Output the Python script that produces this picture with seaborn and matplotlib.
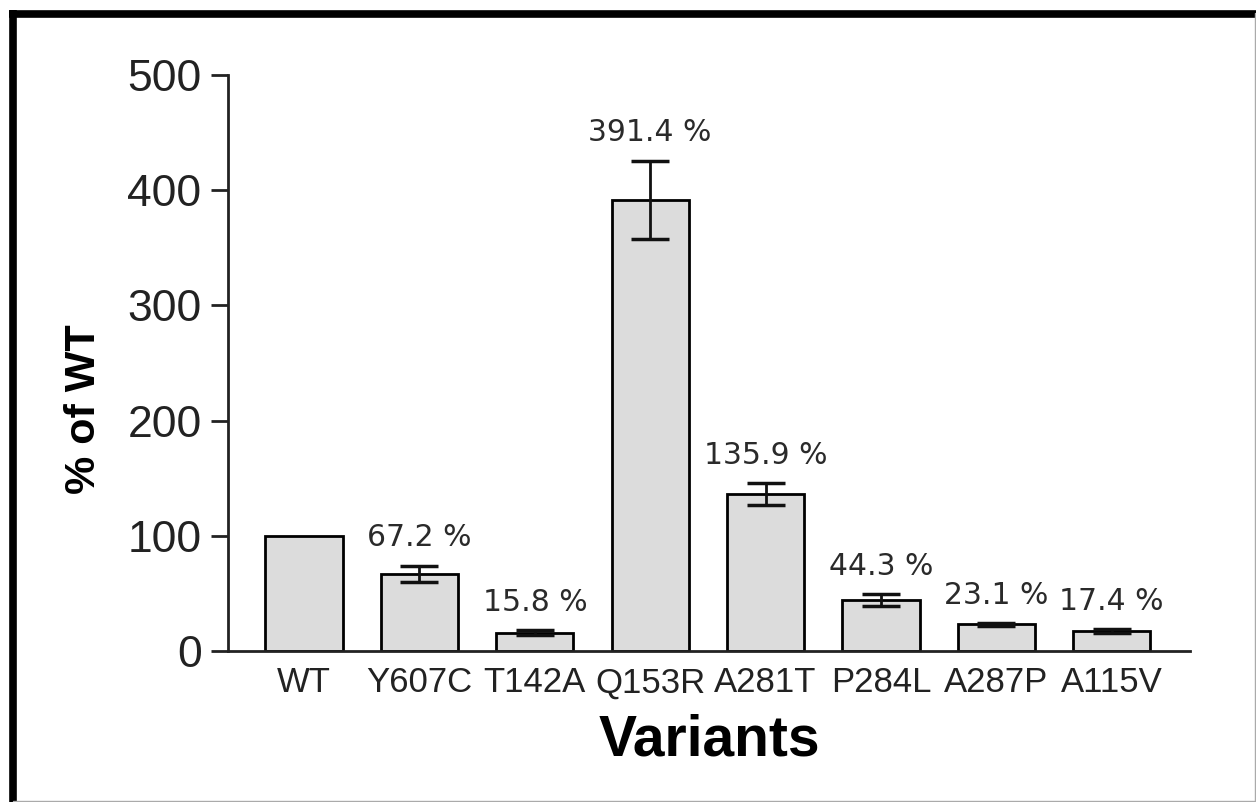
import numpy as np
import pandas as pd
import matplotlib
matplotlib.use('Agg')
import matplotlib.pyplot as plt
import seaborn as sns
from matplotlib.lines import Line2D

# Dados do gráfico
variants = ['WT', 'Y607C', 'T142A', 'Q153R', 'A281T', 'P284L', 'A287P', 'A115V']
values = [100, 67.2, 15.8, 391.4, 135.9, 44.3, 23.1, 17.4]
errors = [0, 7, 2, 34, 9.5, 5, 1, 1.5]
yticks = [0, 100, 200, 300, 400, 500]

df = pd.DataFrame({'Variant': variants, 'Value': values, 'Err': errors})

sns.set_style('white')
plt.rcParams['font.family'] = ['Liberation Sans', 'DejaVu Sans']

fig = plt.figure(figsize=(12.56, 8.02), dpi=100)
ax = fig.add_axes([0.1815, 0.1883, 0.766, 0.7182])

sns.barplot(data=df, x='Variant', y='Value', color='#dcdcdc', saturation=1,
            edgecolor='black', linewidth=2, width=0.67, errorbar=None, ax=ax)

# Barras de erro (sem WT)
pos = np.arange(len(variants))
ax.errorbar(pos[1:], df['Value'][1:], yerr=df['Err'][1:], fmt='none',
            ecolor='#111111', elinewidth=2, capsize=14, capthick=2.5, zorder=5)

# Rótulos de porcentagem
for i in range(1, len(variants)):
    ax.annotate(f'{values[i]} %', (pos[i], values[i] + errors[i]),
                xytext=(0, 14), textcoords='offset points', ha='center',
                va='baseline', fontsize=21.5, color='#2a2a2a', family='DejaVu Sans')

ax.set_xlim(-0.66, 7.68)
ax.set_ylim(0, 500)
ax.set_yticks(yticks)
ax.tick_params(axis='y', length=12, width=2, labelsize=32, labelcolor='#222222',
               left=True, direction='out', color='#222222', pad=7)
ax.tick_params(axis='x', length=0, labelsize=25, labelcolor='#222222', pad=11)

sns.despine(ax=ax)
for s in ['left', 'bottom']:
    ax.spines[s].set_linewidth(2)
    ax.spines[s].set_color('#222222')

ax.set_xlabel('Variants', fontsize=41, fontweight='bold', labelpad=10, color='black')
ax.set_ylabel('% of WT', fontsize=31, fontweight='bold', color='black')
ax.yaxis.set_label_coords(-0.129, 0.42)

# Moldura da figura
fig.add_artist(Line2D([9/1256, 1], [1 - 13.5/802] * 2, color='black', lw=5.5,
                      solid_capstyle='butt'))
fig.add_artist(Line2D([13/1256] * 2, [0, 1 - 10/802], color='black', lw=5.5,
                      solid_capstyle='butt'))
fig.add_artist(Line2D([1255/1256] * 2, [0, 1 - 13/802], color='#aaaaaa', lw=1))
fig.add_artist(Line2D([13/1256, 1], [1/802] * 2, color='#aaaaaa', lw=1))

fig.savefig('out.png', dpi=100)
